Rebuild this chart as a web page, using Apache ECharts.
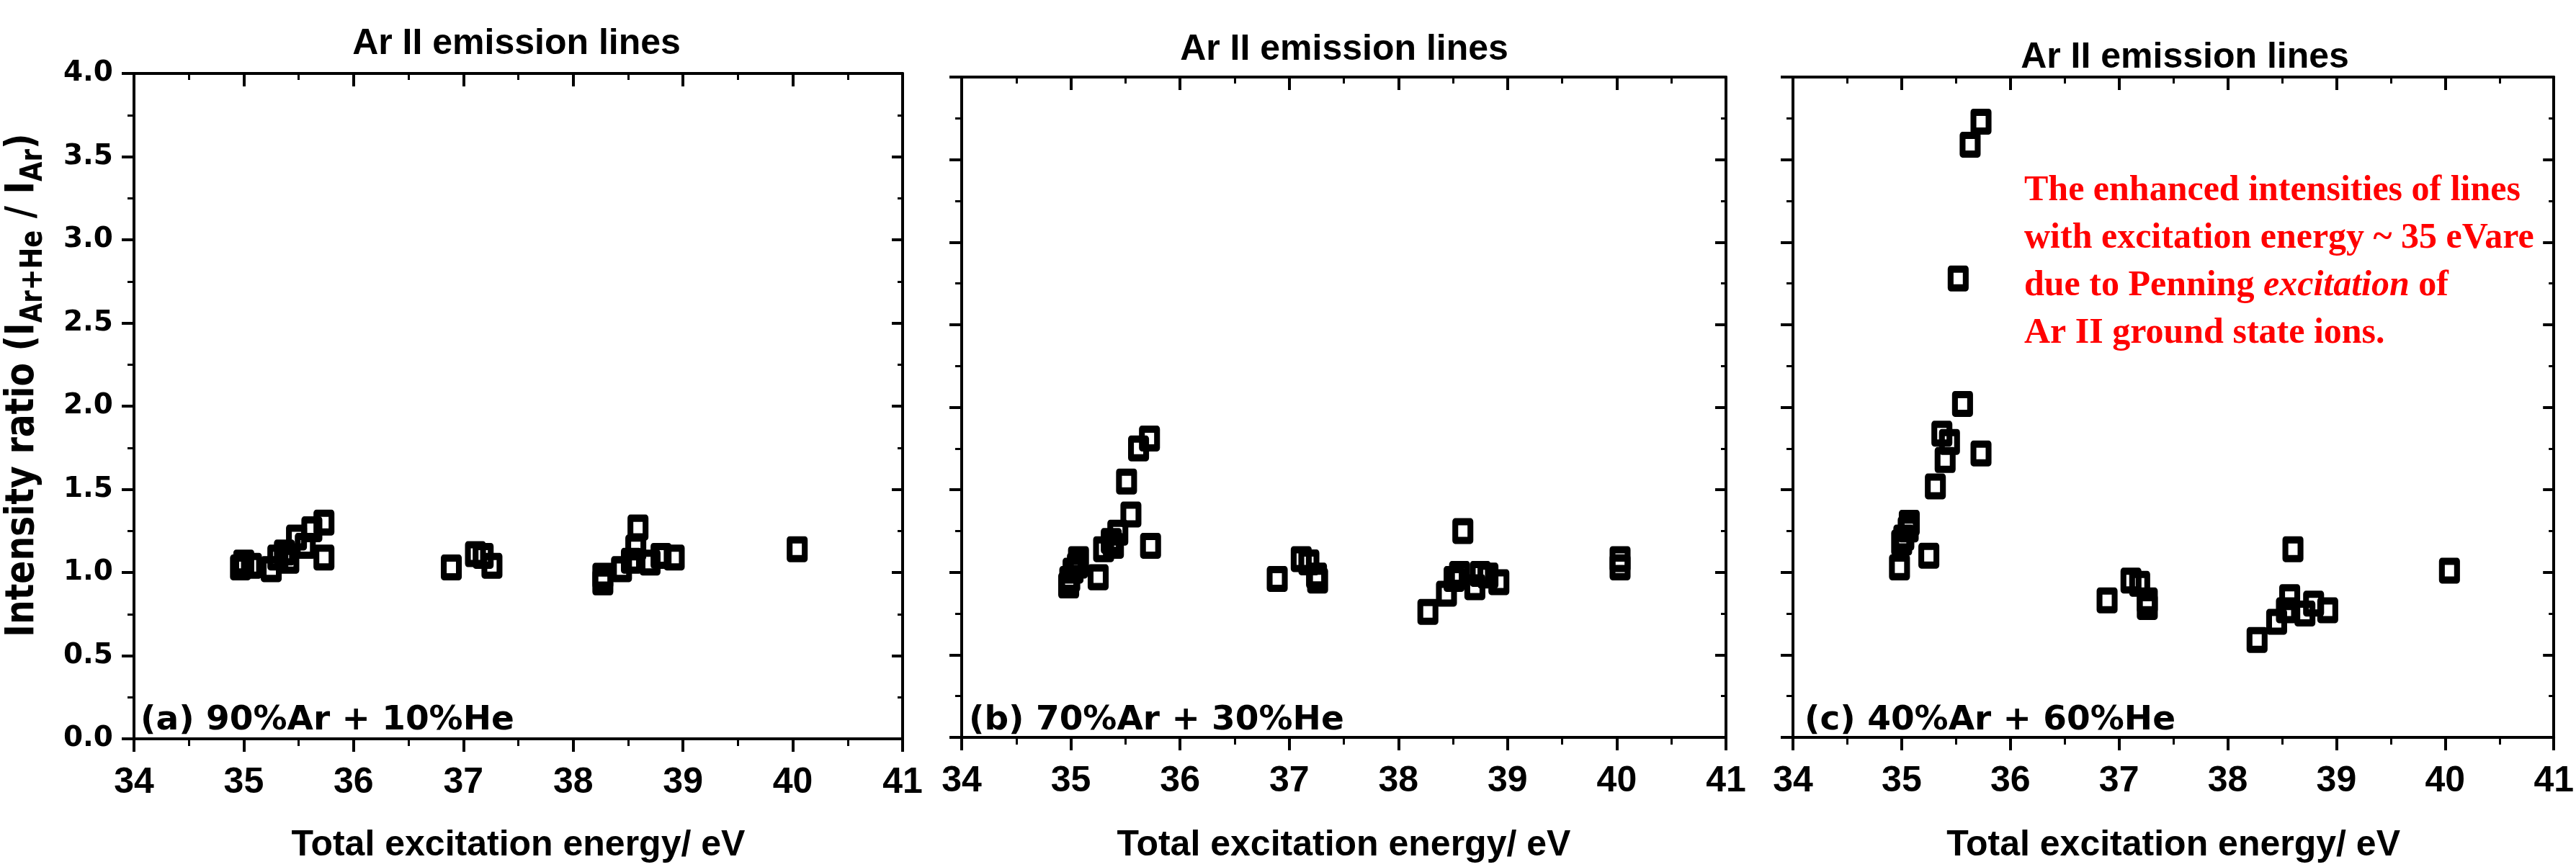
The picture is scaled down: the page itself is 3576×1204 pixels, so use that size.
<!DOCTYPE html>
<html>
<head>
<meta charset="utf-8">
<title>Ar II emission lines</title>
<script src="https://cdn.jsdelivr.net/npm/echarts@6/dist/echarts.min.js"></script>
<style>
  html, body { margin: 0; padding: 0; background: #fff; }
  #chart { width: 3576px; height: 1204px; }
</style>
</head>
<body>
<div id="chart"></div>
<script>
// Total excitation energy (eV) of each Ar II line and its intensity ratio I(Ar+He)/I(Ar)
const energyA = [34.97, 35.00, 35.07, 35.25, 35.31, 35.37, 35.41, 35.48, 35.56, 35.62, 35.73, 35.73,
                 36.89, 37.11, 37.18, 37.26,
                 38.27, 38.27, 38.44, 38.53, 38.57, 38.59, 38.70, 38.80, 38.92, 40.04];
const ratioA  = [1.03, 1.06, 1.04, 1.02, 1.09, 1.12, 1.07, 1.21, 1.16, 1.26, 1.30, 1.09,
                 1.03, 1.11, 1.10, 1.04,
                 0.98, 0.94, 1.02, 1.07, 1.15, 1.27, 1.06, 1.10, 1.09, 1.14];

const energyB = [34.98, 34.99, 35.02, 35.06, 35.07, 35.25, 35.30, 35.37, 35.39, 35.43, 35.51, 35.55, 35.62, 35.72, 35.73,
                 36.89, 37.11, 37.18, 37.25, 37.26,
                 38.27, 38.44, 38.51, 38.56, 38.59, 38.70, 38.75, 38.82, 38.92, 40.03, 40.03];
const ratioB  = [0.92, 0.96, 1.01, 1.04, 1.08, 0.97, 1.14, 1.19, 1.16, 1.24, 1.55, 1.35, 1.75, 1.81, 1.16,
                 0.96, 1.08, 1.06, 0.98, 0.95,
                 0.76, 0.87, 0.96, 0.99, 1.25, 0.91, 0.99, 0.98, 0.94, 1.08, 1.03];

const energyC = [34.98, 35.00, 35.02, 35.06, 35.07, 35.25, 35.31, 35.37, 35.40, 35.44, 35.52, 35.56, 35.63, 35.73, 35.73,
                 36.89, 37.11, 37.19, 37.26, 37.26,
                 38.27, 38.45, 38.54, 38.57, 38.60, 38.71, 38.79, 38.92, 40.04];
const ratioC  = [1.03, 1.18, 1.21, 1.26, 1.30, 1.10, 1.52, 1.84, 1.68, 1.79, 2.78, 2.02, 3.59, 3.73, 1.72,
                 0.83, 0.95, 0.93, 0.83, 0.79,
                 0.59, 0.70, 0.77, 0.85, 1.14, 0.75, 0.81, 0.77, 1.01];

const panelLabels = ['(a) 90%Ar + 10%He', '(b) 70%Ar + 30%He', '(c) 40%Ar + 60%He'];
const panelTitle = 'Ar II emission lines';
const xAxisTitle = 'Total excitation energy/ eV';
const energyRange = [34, 41];   // x axis, 1 eV steps
const ratioRange = [0, 4];      // y axis, 0.5 steps
const noteLines = [
  'The enhanced intensities of lines',
  'with excitation energy ~ 35 eVare',
  'due to Penning {i|excitation} of',
  'Ar II ground state ions.'
];

const panels = [
  { x: energyA, y: ratioA },
  { x: energyB, y: ratioB },
  { x: energyC, y: ratioC }
];

// layout of the three plot frames
const frames = [
  { left: 186,  top: 102, width: 1067, height: 933, nameGap: 123, titleX: 717,  titleY: 61, labelX: 195 },
  { left: 1335, top: 107, width: 1061, height: 931, nameGap: 125, titleX: 1866, titleY: 69, labelX: 1345 },
  { left: 2489, top: 107, width: 1062, height: 931, nameGap: 125, titleX: 3033, titleY: 80, labelX: 2505 }
];

const SANS = '"Liberation Sans", Arial, sans-serif';
const WIDE = '"DejaVu Sans", Verdana, sans-serif';
const SERIF = '"Liberation Serif", "Times New Roman", serif';
const BLACK = '#000';

const grids = [], xAxes = [], yAxes = [], series = [], graphics = [];

const axisLine = { show: true, onZero: false, lineStyle: { color: BLACK, width: 4 } };

frames.forEach((f, i) => {
  grids.push({ left: f.left, top: f.top, width: f.width, height: f.height, containLabel: false });

  // bottom energy axis with labels
  xAxes.push({
    gridIndex: i, type: 'value', position: 'bottom',
    min: energyRange[0], max: energyRange[1], interval: 1,
    name: xAxisTitle, nameLocation: 'middle', nameGap: f.nameGap,
    nameTextStyle: { fontFamily: SANS, fontWeight: 'bold', fontSize: 50, color: BLACK },
    axisLine: axisLine,
    axisTick: { show: true, inside: false, length: 18, lineStyle: { color: BLACK, width: 4 } },
    minorTick: { show: true, splitNumber: 2, length: 10, lineStyle: { color: BLACK, width: 3 } },
    axisLabel: { show: true, margin: 36, fontFamily: SANS, fontWeight: 'bold', fontSize: 50, color: BLACK,
                 showMinLabel: true, showMaxLabel: true },
    splitLine: { show: false }
  });
  // top mirror axis
  xAxes.push({
    gridIndex: i, type: 'value', position: 'top',
    min: energyRange[0], max: energyRange[1], interval: 1,
    axisLine: axisLine,
    axisTick: { show: true, inside: true, length: 18, lineStyle: { color: BLACK, width: 4 } },
    minorTick: { show: true, splitNumber: 2, length: 9, lineStyle: { color: BLACK, width: 3 } },
    axisLabel: { show: false },
    splitLine: { show: false }
  });
  // left ratio axis (labelled only on the first panel)
  yAxes.push({
    gridIndex: i, type: 'value', position: 'left',
    min: ratioRange[0], max: ratioRange[1], interval: 0.5,
    axisLine: axisLine,
    axisTick: { show: true, inside: false, length: 17, lineStyle: { color: BLACK, width: 4 } },
    minorTick: { show: true, splitNumber: 2, length: 9, lineStyle: { color: BLACK, width: 3 } },
    axisLabel: { show: i === 0, margin: 29, fontFamily: WIDE, fontWeight: 'bold', fontSize: 39, color: BLACK,
                 formatter: v => v.toFixed(1) },
    splitLine: { show: false }
  });
  // right mirror axis
  yAxes.push({
    gridIndex: i, type: 'value', position: 'right',
    min: ratioRange[0], max: ratioRange[1], interval: 0.5,
    axisLine: axisLine,
    axisTick: { show: true, inside: true, length: 15, lineStyle: { color: BLACK, width: 4 } },
    minorTick: { show: true, splitNumber: 2, length: 7, lineStyle: { color: BLACK, width: 3 } },
    axisLabel: { show: false },
    splitLine: { show: false }
  });

  const p = panels[i];
  series.push({
    type: 'scatter',
    xAxisIndex: 2 * i, yAxisIndex: 2 * i,
    data: p.x.map((e, k) => [e, p.y[k]]),
    symbol: 'rect',
    symbolSize: [21, 26],
    itemStyle: { color: 'rgba(0,0,0,0)', borderColor: BLACK, borderWidth: 9, borderJoin: 'round', opacity: 1 },
    emphasis: { disabled: true },
    clip: false
  });

  graphics.push({
    type: 'text', x: f.titleX, y: f.titleY,
    style: { text: panelTitle, fontFamily: SANS, fontWeight: 'bold', fontSize: 50, fill: BLACK,
             align: 'center', verticalAlign: 'middle' }
  });
  graphics.push({
    type: 'text', x: f.labelX, y: 1001,
    style: { text: panelLabels[i], fontFamily: WIDE, fontWeight: 'bold', fontSize: 47, fill: BLACK,
             align: 'left', verticalAlign: 'middle' }
  });
});

// vertical quantity name with subscripts
graphics.push({
  type: 'text', x: 31, y: 535, rotation: Math.PI / 2, scaleX: 0.845,
  style: {
    text: '{m|Intensity ratio (I}{s|Ar+He}{m| / I}{s|Ar}{m|)}',
    align: 'center', verticalAlign: 'middle',
    rich: {
      m: { fontFamily: WIDE, fontWeight: 'bold', fontSize: 56, lineHeight: 74, fill: BLACK },
      s: { fontFamily: WIDE, fontWeight: 'bold', fontSize: 42, lineHeight: 42, verticalAlign: 'bottom', fill: BLACK }
    }
  }
});

// explanatory note in panel (c)
graphics.push({
  type: 'text', x: 2810, y: 232,
  style: {
    text: noteLines.join('\n'),
    fontFamily: SERIF, fontWeight: 'bold', fontSize: 50, lineHeight: 66, fill: '#ff0000',
    align: 'left', verticalAlign: 'top',
    rich: {
      i: { fontFamily: SERIF, fontWeight: 'bold', fontStyle: 'italic', fontSize: 50, lineHeight: 66, fill: '#ff0000' }
    }
  }
});

const chart = echarts.init(document.getElementById('chart'), null, { renderer: 'canvas' });
chart.setOption({
  backgroundColor: '#fff',
  animation: false,
  grid: grids,
  xAxis: xAxes,
  yAxis: yAxes,
  series: series,
  graphic: graphics
});
</script>
</body>
</html>
